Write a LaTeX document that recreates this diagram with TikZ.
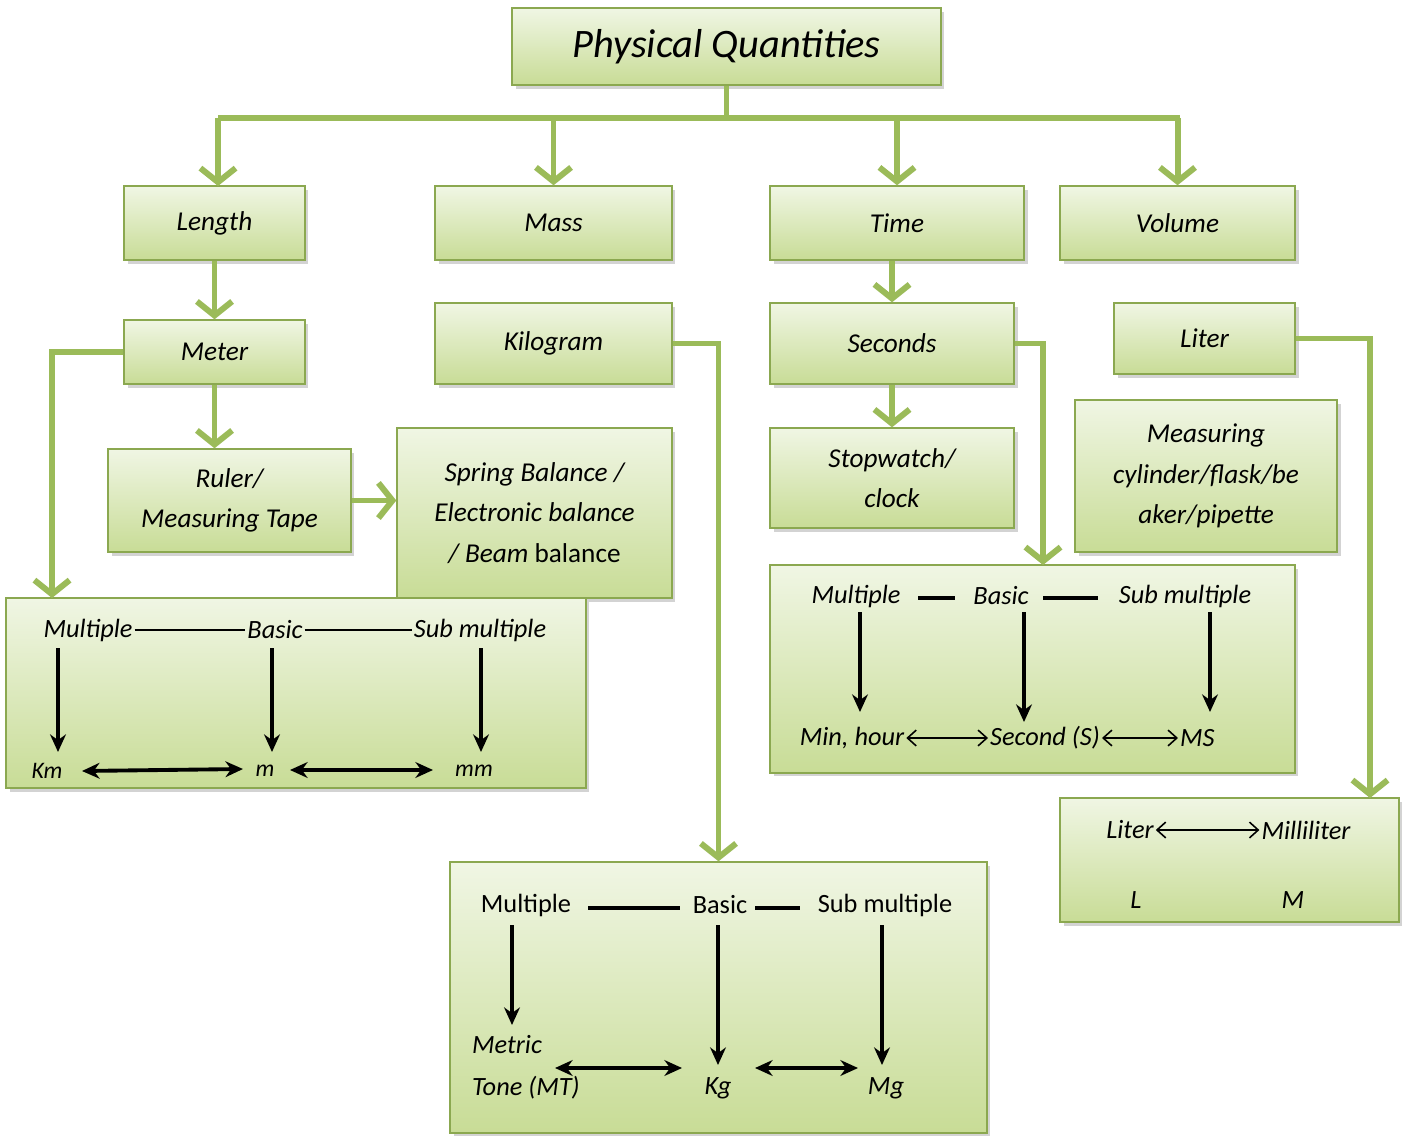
\documentclass[tikz,border=0pt]{standalone}
\usepackage{fontspec}
\setmainfont{Carlito}
\usetikzlibrary{arrows.meta,shadows,calc}
\definecolor{leaf}{RGB}{155,187,89}
\definecolor{leaftop}{RGB}{240,246,228}
\definecolor{leafbot}{RGB}{200,220,150}
\tikzset{
  qbox/.style={draw=leaf!90!black, line width=0.8pt, top color=leaftop, bottom color=leafbot,
    drop shadow={opacity=0.35, shadow xshift=2pt, shadow yshift=-2pt},
    font=\fontsize{15.5}{23}\selectfont\itshape, align=center, inner sep=2pt},
  gline/.style={leaf, line width=3.4pt},
  garrow/.style={leaf, line width=3.4pt, -{Straight Barb[length=8pt,width=20pt]}},
  utext/.style={font=\fontsize{15}{20}\selectfont\itshape, inner sep=1pt},
  urtext/.style={font=\fontsize{15}{20}\selectfont\upshape, inner sep=1pt},
  bline/.style={black, line width=0.8pt},
  barrow/.style={black, line width=2.2pt, -{Stealth[length=10pt,width=9pt]}},
  bdouble/.style={black, line width=2.2pt, {Stealth[length=10pt,width=9pt]}-{Stealth[length=10pt,width=9pt]}},
  odouble/.style={black, line width=0.9pt, {Straight Barb[length=5pt,width=9pt]}-{Straight Barb[length=5pt,width=9pt]}}
}
\begin{document}
\begin{tikzpicture}[x=0.02cm, y=-0.02cm]
    \useasboundingbox (0,0) rectangle (1403,1142);
    % boxes
    \node[qbox, minimum width=8.58cm, minimum height=1.54cm, font=\fontsize{23}{28}\selectfont\itshape] (title) at (726.5,46.5) {Physical Quantities};
    \node[qbox, minimum width=3.62cm, minimum height=1.48cm] (length) at (214.5,223) {Length};
    \node[qbox, minimum width=4.74cm, minimum height=1.48cm] (mass) at (553.5,223) {Mass};
    \node[qbox, minimum width=5.08cm, minimum height=1.48cm] (time) at (897,223) {Time};
    \node[qbox, minimum width=4.70cm, minimum height=1.48cm] (volume) at (1177.5,223) {Volume};
    \node[qbox, minimum width=3.62cm, minimum height=1.28cm] (meter) at (214.5,352) {Meter};
    \node[qbox, minimum width=4.74cm, minimum height=1.62cm] (kilogram) at (553.5,343.5) {Kilogram};
    \node[qbox, minimum width=4.88cm, minimum height=1.62cm] (seconds) at (892,343.5) {Seconds};
    \node[qbox, minimum width=3.62cm, minimum height=1.42cm] (liter) at (1204.5,338.5) {Liter};
    \node[qbox, minimum width=4.86cm, minimum height=2.06cm] (ruler) at (229.5,500.5) {Ruler/\\ Measuring Tape};
    \node[qbox, minimum width=5.5cm, minimum height=3.4cm] (balance) at (534.5,513) {Spring Balance /\\ Electronic balance\\ / Beam \upshape balance};
    \node[qbox, minimum width=4.88cm, minimum height=2.0cm] (watch) at (892,478) {Stopwatch/\\ clock};
    \node[qbox, minimum width=5.24cm, minimum height=3.04cm] (cylinder) at (1206,476) {Measuring\\ cylinder/flask/be\\ aker/pipette};
    \node[qbox, minimum width=11.6cm, minimum height=3.8cm] (lenunits) at (296,693) {};
    \node[qbox, minimum width=10.5cm, minimum height=4.16cm] (timeunits) at (1032.5,669) {};
    \node[qbox, minimum width=6.78cm, minimum height=2.48cm] (litunits) at (1229.5,860) {};
    \node[qbox, minimum width=10.74cm, minimum height=5.42cm] (massunits) at (718.5,997.5) {};
    % green tree
    \coordinate (bus) at (718,118);
    \draw[gline] (title.south) -- (title.south |- bus);
    \draw[gline] (218,118) -- (1180,118);
    \draw[garrow] (218,118) -- (218,186);
    \draw[garrow] (mass.north |- bus) -- (mass.north);
    \draw[garrow] (time.north |- bus) -- (time.north);
    \draw[garrow] (volume.north |- bus) -- (volume.north);
    \draw[garrow] (length.south) -- (meter.north);
    \draw[garrow] (meter.south) -- (ruler.north -| meter.south);
    \draw[garrow] (meter.west) -| (52,598);
    \draw[garrow] (ruler.east) -- (balance.west |- ruler.east);
    \draw[garrow] (kilogram.east) -| (massunits.north);
    \draw[garrow] (time.south -| seconds.north) -- (seconds.north);
    \draw[garrow] (seconds.south) -- (watch.north);
    \draw[garrow] (seconds.east) -| (1043,565);
    \draw[garrow] (liter.east) -| (1370,798);
    % length units
    \node[utext] (lmul) at (88,630) {Multiple};
    \node[utext] (lbas) at (275,630) {Basic};
    \node[utext] (lsub) at (480,630) {Sub multiple};
    \node[utext, font=\fontsize{13.5}{16}\selectfont\itshape] (km) at (47,771) {Km};
    \node[utext, font=\fontsize{13.5}{16}\selectfont\itshape] (m) at (265,771) {m};
    \node[utext, font=\fontsize{13.5}{16}\selectfont\itshape] (mm) at (474,771) {mm};
    \draw[bline] (lmul.east) -- (lbas.west);
    \draw[bline] (lbas.east) -- (lsub.west);
    \draw[barrow] (58,648) -- (58,752);
    \draw[barrow] (272,648) -- (272,752);
    \draw[barrow] (481,648) -- (481,752);
    \draw[bdouble] (82,771) -- (243,769);
    \draw[bdouble] (290,770) -- (433,770);
    % time units
    \node[utext] (tmul) at (856,596) {Multiple};
    \node[utext] (tbas) at (1001,596) {Basic};
    \node[utext] (tsub) at (1185,596) {Sub multiple};
    \node[utext] (hour) at (852,738) {Min, hour};
    \node[utext] (sec) at (1045,738) {Second (S)};
    \node[utext, anchor=west] (ms) at (1178,738) {MS};
    \draw[black, line width=2.6pt] (918,598) -- (955,598);
    \draw[black, line width=2.6pt] (1043,598) -- (1098,598);
    \draw[barrow] (860,612) -- (860,712);
    \draw[barrow] (1024,612) -- (1024,722);
    \draw[barrow] (1210,612) -- (1210,712);
    \draw[odouble] (hour.east) -- (sec.west);
    \draw[odouble] (sec.east) -- (ms.west);
    % liter units
    \node[utext] (lit) at (1130,830) {Liter};
    \node[utext] (ml) at (1306,830) {Milliliter};
    \node[utext] (bigl) at (1136,900) {L};
    \node[utext] (bigm) at (1293,900) {M};
    \draw[odouble] (lit.east) -- (ml.west);
    % mass units
    \node[urtext] (mmul) at (526,905) {Multiple};
    \node[urtext] (mbas) at (720,905) {Basic};
    \node[urtext] (msub) at (885,905) {Sub multiple};
    \node[utext, align=left, anchor=west, font=\fontsize{15}{24}\selectfont\itshape] (mt) at (470,1067) {Metric\\ Tone (MT)};
    \node[utext] (kg) at (718,1088) {Kg};
    \node[utext] (mg) at (886,1088) {Mg};
    \draw[black, line width=2.6pt] (588,908) -- (680,908);
    \draw[black, line width=2.6pt] (755,908) -- (800,908);
    \draw[barrow] (512,925) -- (512,1025);
    \draw[barrow] (718,925) -- (718,1065);
    \draw[barrow] (882,925) -- (882,1065);
    \draw[bdouble] (555,1068) -- (682,1068);
    \draw[bdouble] (755,1068) -- (858,1068);
\end{tikzpicture}
\end{document}
